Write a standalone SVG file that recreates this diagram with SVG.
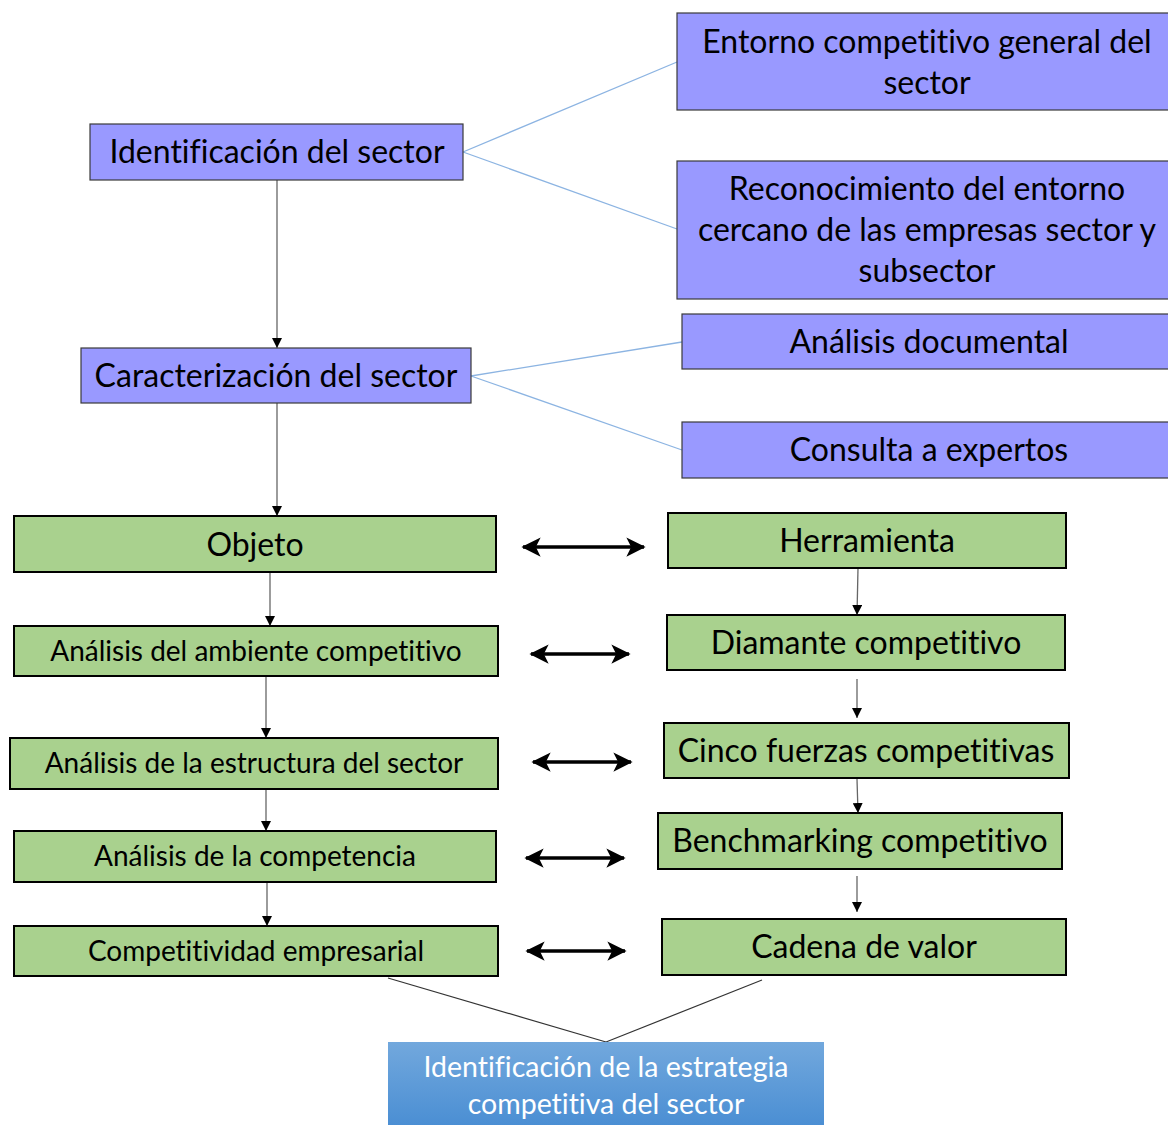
<svg xmlns="http://www.w3.org/2000/svg" width="1168" height="1125" viewBox="0 0 1168 1125">
<defs>
<linearGradient id="gb" x1="0" y1="0" x2="0" y2="1"><stop offset="0" stop-color="#72a8dd"/><stop offset="1" stop-color="#4a8ed3"/></linearGradient>
<marker id="ah" viewBox="0 0 10 10" refX="10" refY="5" markerWidth="10" markerHeight="10" markerUnits="userSpaceOnUse" orient="auto"><path d="M0,0 L10,5 L0,10 z" fill="#000"/></marker>
<marker id="dh" viewBox="0 0 12 12" refX="11" refY="6" markerWidth="5.5" markerHeight="5.5" orient="auto-start-reverse"><path d="M0,0 L12,6 L0,12 L3,6 z" fill="#000"/></marker>
</defs>
<style>
.p{fill:#9999ff;stroke:#3a3a3a;stroke-width:1.2}
.g{fill:#a9d18e;stroke:#000;stroke-width:2}
text{font-family:Lato,"Liberation Sans",sans-serif;fill:#000;text-anchor:middle;dominant-baseline:central;font-variant-ligatures:none;transform:translate(0px,-2px)}
.t1{font-size:32px}
.t2{font-size:28px}
.w{fill:#fff;font-size:28.5px}
.bl{stroke:#8cb4e2;stroke-width:1.3;fill:none}
.ar{stroke:#666;stroke-width:1.3;fill:none;marker-end:url(#ah)}
.da{stroke:#000;stroke-width:3.5;fill:none;marker-start:url(#dh);marker-end:url(#dh)}
.dl{stroke:#333;stroke-width:1.2;fill:none}
</style>
<g id="connectors">
<line class="bl" x1="463" y1="152" x2="677" y2="62"/>
<line class="bl" x1="463" y1="152" x2="677" y2="229"/>
<line class="bl" x1="471" y1="376" x2="682" y2="342"/>
<line class="bl" x1="471" y1="376" x2="682" y2="450"/>
<line class="ar" x1="277" y1="180" x2="277" y2="348"/>
<line class="ar" x1="277" y1="403" x2="277" y2="516"/>
<line class="ar" x1="270" y1="572" x2="270" y2="626"/>
<line class="ar" x1="266" y1="676" x2="266" y2="738"/>
<line class="ar" x1="266" y1="789" x2="266" y2="831"/>
<line class="ar" x1="267" y1="882" x2="267" y2="926"/>
<line class="ar" x1="858" y1="568" x2="857" y2="615"/>
<line class="ar" x1="857" y1="679" x2="857" y2="718"/>
<line class="ar" x1="857" y1="779" x2="858" y2="813"/>
<line class="ar" x1="857" y1="876" x2="857" y2="912"/>
<line class="da" x1="523" y1="547" x2="644" y2="547"/>
<line class="da" x1="531" y1="654" x2="629" y2="654"/>
<line class="da" x1="533" y1="762" x2="631" y2="762"/>
<line class="da" x1="526" y1="858" x2="624" y2="858"/>
<line class="da" x1="527" y1="951" x2="625" y2="951"/>
<line class="dl" x1="388" y1="978" x2="606" y2="1042"/>
<line class="dl" x1="762" y1="980" x2="606" y2="1042"/>
</g>
<g id="n-identificacion"><rect class="p" x="90" y="124" width="373" height="56"/><text class="t1" x="277" y="152">Identificación del sector</text></g>
<g id="n-entorno"><rect class="p" x="677" y="13" width="494" height="97"/><text class="t1" x="927" y="42">Entorno competitivo general del</text><text class="t1" x="927" y="83">sector</text></g>
<g id="n-reconocimiento"><rect class="p" x="677" y="161" width="494" height="138"/><text class="t1" x="927" y="189">Reconocimiento del entorno</text><text class="t1" x="927" y="230">cercano de las empresas sector y</text><text class="t1" x="927" y="271">subsector</text></g>
<g id="n-caracterizacion"><rect class="p" x="81" y="348" width="390" height="55"/><text class="t1" x="276" y="376">Caracterización del sector</text></g>
<g id="n-documental"><rect class="p" x="682" y="314" width="489" height="55"/><text class="t1" x="929" y="342">Análisis documental</text></g>
<g id="n-expertos"><rect class="p" x="682" y="422" width="489" height="56"/><text class="t1" x="929" y="450">Consulta a expertos</text></g>
<g id="n-objeto"><rect class="g" x="14" y="516" width="482" height="56"/><text class="t1" x="255" y="545">Objeto</text></g>
<g id="n-ambiente"><rect class="g" x="14" y="626" width="484" height="50"/><text class="t2" x="256" y="652">Análisis del ambiente competitivo</text></g>
<g id="n-estructura"><rect class="g" x="10" y="738" width="488" height="51"/><text class="t2" x="254" y="764">Análisis de la estructura del sector</text></g>
<g id="n-competencia"><rect class="g" x="14" y="831" width="482" height="51"/><text class="t2" x="255" y="857">Análisis de la competencia</text></g>
<g id="n-competitividad"><rect class="g" x="14" y="926" width="484" height="50"/><text class="t2" x="256" y="952">Competitividad empresarial</text></g>
<g id="n-herramienta"><rect class="g" x="668" y="513" width="398" height="55"/><text class="t1" x="867" y="541">Herramienta</text></g>
<g id="n-diamante"><rect class="g" x="667" y="615" width="398" height="55"/><text class="t1" x="866" y="643">Diamante competitivo</text></g>
<g id="n-cinco"><rect class="g" x="664" y="723" width="405" height="55"/><text class="t1" x="866" y="751">Cinco fuerzas competitivas</text></g>
<g id="n-benchmarking"><rect class="g" x="658" y="813" width="404" height="56"/><text class="t1" x="860" y="841">Benchmarking competitivo</text></g>
<g id="n-cadena"><rect class="g" x="662" y="919" width="404" height="56"/><text class="t1" x="864" y="947">Cadena de valor</text></g>
<g id="n-estrategia"><rect x="388" y="1042" width="436" height="85" fill="url(#gb)"/><text class="w" x="606" y="1068">Identificación de la estrategia</text><text class="w" x="606" y="1105">competitiva del sector</text></g>
</svg>
